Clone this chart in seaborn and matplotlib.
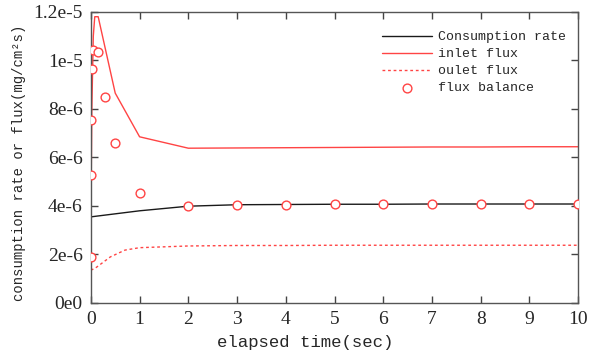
import matplotlib
matplotlib.use("Agg")
import matplotlib.pyplot as plt
import seaborn as sns
import numpy as np
import pandas as pd
from matplotlib.ticker import FixedLocator, FixedFormatter

# ---- data ----
cons_t = [0, 1, 2, 3, 4, 5, 6, 7, 8, 9, 10]
cons_v = [3.55e-6, 3.80e-6, 3.99e-6, 4.05e-6, 4.06e-6, 4.07e-6, 4.07e-6, 4.08e-6, 4.08e-6, 4.08e-6, 4.08e-6]

inlet_t = [0, 0.02, 0.05, 0.08, 0.15, 0.5, 1, 2, 3, 4, 5, 6, 7, 8, 9, 10]
inlet_v = [3.3e-6, 8.0e-6, 11.0e-6, 11.8e-6, 11.8e-6, 8.65e-6, 6.85e-6, 6.38e-6, 6.39e-6, 6.40e-6,
           6.41e-6, 6.42e-6, 6.43e-6, 6.43e-6, 6.44e-6, 6.44e-6]

outlet_t = [0, 0.1, 0.2, 0.4, 0.7, 1, 2, 3, 4, 5, 6, 7, 8, 9, 10]
outlet_v = [1.35e-6, 1.45e-6, 1.6e-6, 1.9e-6, 2.18e-6, 2.28e-6, 2.35e-6, 2.37e-6, 2.37e-6, 2.38e-6,
            2.38e-6, 2.38e-6, 2.38e-6, 2.38e-6, 2.38e-6]

bal_t = [0, 0, 0.01, 0.03, 0.05, 0.15, 0.3, 0.5, 1, 2, 3, 4, 5, 6, 7, 8, 9, 10]
bal_v = [1.88e-6, 5.28e-6, 7.55e-6, 9.65e-6, 10.43e-6, 10.36e-6, 8.48e-6, 6.58e-6, 4.55e-6,
         4.0e-6, 4.03e-6, 4.05e-6, 4.07e-6, 4.07e-6, 4.08e-6, 4.08e-6, 4.08e-6, 4.08e-6]

x_ticks = [0, 1, 2, 3, 4, 5, 6, 7, 8, 9, 10]
y_ticks = [0, 2e-6, 4e-6, 6e-6, 8e-6, 1e-5, 1.2e-5]
y_tick_labels = ["0e0", "2e-6", "4e-6", "6e-6", "8e-6", "1e-5", "1.2e-5"]

labels = ["Consumption rate", "inlet flux", "oulet flux", "flux balance"]

# ---- plot ----
sns.set_style("ticks")
plt.rcParams['font.family'] = ['Liberation Serif', 'DejaVu Serif']

fig = plt.figure(figsize=(5.9, 3.59), dpi=100)
ax = fig.add_axes([0.154, 0.156, 0.826, 0.811])

red = "#ff4444"
sns.lineplot(x=cons_t, y=cons_v, ax=ax, color="#1a1a1a", lw=1.0, label=labels[0])
sns.lineplot(x=inlet_t, y=inlet_v, ax=ax, color=red, lw=1.0, label=labels[1], sort=False)
sns.lineplot(x=outlet_t, y=outlet_v, ax=ax, color=red, lw=1.0, ls=(0, (2, 2)), label=labels[2])
sns.scatterplot(x=bal_t, y=bal_v, ax=ax, marker="o", s=40, facecolor="white",
                edgecolor=red, linewidth=1.0, label=labels[3], zorder=5)

ax.set_xlim(0, 10)
ax.set_ylim(0, 1.2e-5)
ax.xaxis.set_major_locator(FixedLocator(x_ticks))
ax.yaxis.set_major_locator(FixedLocator(y_ticks))
ax.yaxis.set_major_formatter(FixedFormatter(y_tick_labels))
ax.tick_params(direction="in", length=5, width=1, color="#444444",
               top=True, right=True, labelsize=14, pad=6)
for sp in ax.spines.values():
    sp.set_color("#555555")
    sp.set_linewidth(1.0)

mono = ['Liberation Mono', 'DejaVu Sans Mono']
ax.set_xlabel("elapsed time(sec)", fontsize=12.5, family=mono)
ax.xaxis.set_label_coords(0.44, -0.11)
ax.set_ylabel("consumption rate or flux(mg/cm²s)", fontsize=10, family=mono)
ax.yaxis.set_label_coords(-0.133, 0.48)

leg = ax.legend(loc="upper right", frameon=False, prop={'family': mono, 'size': 9.5},
                handlelength=3.8, handletextpad=0.5, labelspacing=0.36,
                bbox_to_anchor=(1.0, 0.975))

fig.savefig("out.png", dpi=100)
